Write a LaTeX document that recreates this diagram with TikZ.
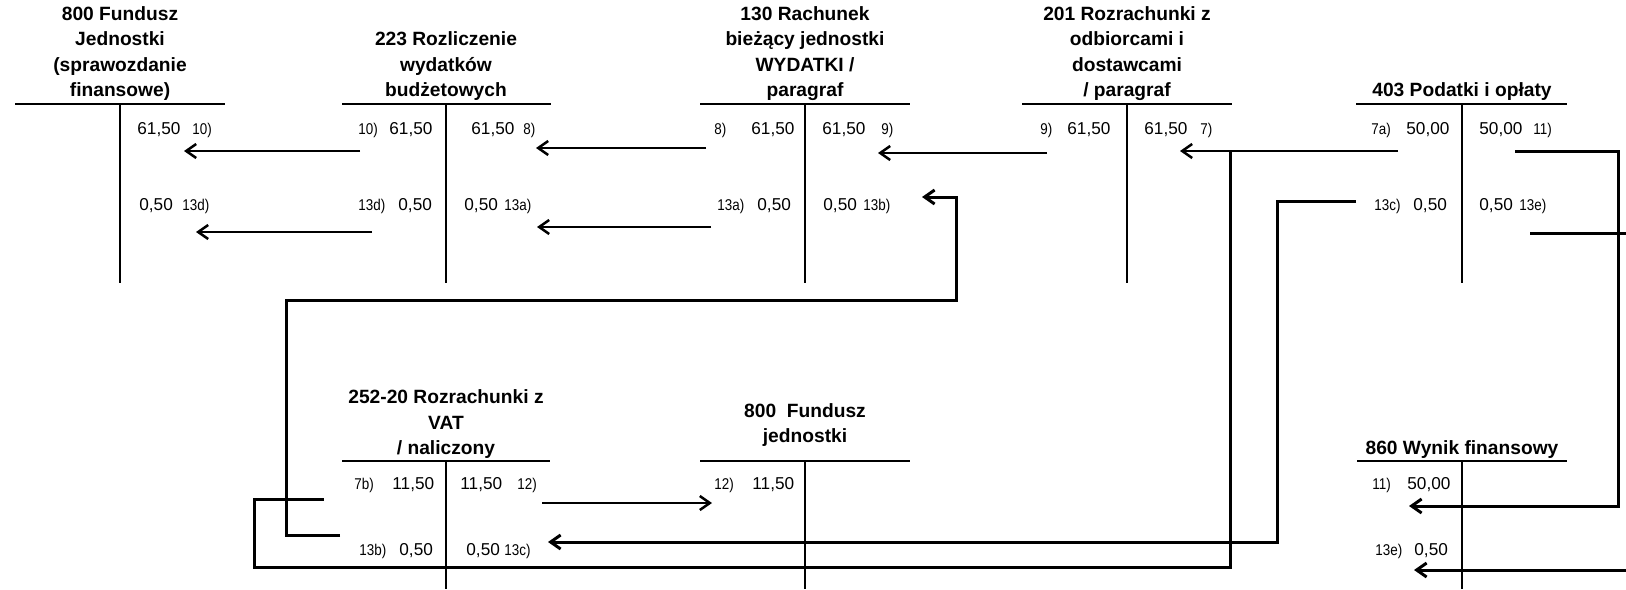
\documentclass[tikz,border=0pt]{standalone}
\usepackage{fontspec}
\setmainfont{Liberation Sans}
\newfontfamily\narrowfont[FakeStretch=0.86]{Liberation Sans}
\usetikzlibrary{arrows.meta}

\begin{document}
\begin{tikzpicture}[
	x=0.5pt, y=-0.5pt,
	acct/.style={
		font=\bfseries\fontsize{9.6}{12.75}\selectfont,
		align=center,
		anchor=south,
		inner sep=0pt,
		execute at end node=\strut
	},
	tline/.style={line width=1pt},
	amt/.style={font=\fontsize{8.6}{10}\selectfont, anchor=base west, inner sep=0pt},
	refl/.style={font=\narrowfont\fontsize{7.8}{9}\selectfont, anchor=base west, inner sep=0pt},
	flow/.style={
		-{Straight Barb[length=5pt,width=7pt]},
		line width=1.25pt
	},
	elbow/.style={line width=1.5pt},
	elbowarrow/.style={elbow, -{Straight Barb[length=5pt,width=7pt]}}
]
\useasboundingbox (0,0) rectangle (1626,589);

% account titles
\node[acct] (t800) at (120,105) {800 Fundusz\\Jednostki\\(sprawozdanie\\finansowe)};
\node[acct] (t223) at (446,105) {223 Rozliczenie\\wydatków\\budżetowych};
\node[acct] (t130) at (805,105) {130 Rachunek\\bieżący jednostki\\WYDATKI /\\paragraf};
\node[acct] (t201) at (1127,105) {201 Rozrachunki z\\odbiorcami i\\dostawcami\\/ paragraf};
\node[acct] (t403) at (1462,105) {403 Podatki i opłaty};
\node[acct] (t252) at (446,463) {252-20 Rozrachunki z\\VAT\\/ naliczony};
\node[acct] (t800j) at (805,451) {800\ \ Fundusz\\jednostki};
\node[acct] (t860) at (1462,463) {860 Wynik finansowy};

% T lines
\draw[tline] (15,104) -- (225,104) (120,104) -- (120,283);
\draw[tline] (342,104) -- (551,104) (446,104) -- (446,283);
\draw[tline] (700,104) -- (910,104) (805,104) -- (805,283);
\draw[tline] (1022,104) -- (1232,104) (1127,104) -- (1127,283);
\draw[tline] (1356,104) -- (1567,104) (1462,104) -- (1462,283);
\draw[tline] (342,461) -- (550,461) (446,461) -- (446,589);
\draw[tline] (700,461) -- (910,461) (805,461) -- (805,589);
\draw[tline] (1357,461) -- (1567,461) (1462,461) -- (1462,589);

% 800 Fundusz Jednostki
\node[amt] (fjc1) at (137,134) {61,50};
\node[refl] (fjc1r) at (192,134) {10)};
\node[amt] (fjc2) at (139,210) {0,50};
\node[refl] (fjc2r) at (182,210) {13d)};

% 223 Rozliczenie wydatkow
\node[refl] (rwd1r) at (358,134) {10)};
\node[amt] (rwd1) at (389,134) {61,50};
\node[refl] (rwd2r) at (358,210) {13d)};
\node[amt] (rwd2) at (398,210) {0,50};
\node[amt] (rwc1) at (471,134) {61,50};
\node[refl] (rwc1r) at (523,134) {8)};
\node[amt] (rwc2) at (464,210) {0,50};
\node[refl] (rwc2r) at (504,210) {13a)};

% 130 Rachunek biezacy
\node[refl] (rbd1r) at (714,134) {8)};
\node[amt] (rbd1) at (751,134) {61,50};
\node[refl] (rbd2r) at (717,210) {13a)};
\node[amt] (rbd2) at (757,210) {0,50};
\node[amt] (rbc1) at (822,134) {61,50};
\node[refl] (rbc1r) at (881,134) {9)};
\node[amt] (rbc2) at (823,210) {0,50};
\node[refl] (rbc2r) at (863,210) {13b)};

% 201 Rozrachunki z odbiorcami
\node[refl] (odd1r) at (1040,134) {9)};
\node[amt] (odd1) at (1067,134) {61,50};
\node[amt] (odc1) at (1144,134) {61,50};
\node[refl] (odc1r) at (1200,134) {7)};

% 403 Podatki
\node[refl] (pod1r) at (1371,134) {7a)};
\node[amt] (pod1) at (1406,134) {50,00};
\node[refl] (pod2r) at (1374,210) {13c)};
\node[amt] (pod2) at (1413,210) {0,50};
\node[amt] (poc1) at (1479,134) {50,00};
\node[refl] (poc1r) at (1533,134) {11)};
\node[amt] (poc2) at (1479,210) {0,50};
\node[refl] (poc2r) at (1519,210) {13e)};

% 252-20 VAT
\node[refl] (vtd1r) at (354,489) {7b)};
\node[amt] (vtd1) at (392,489) {11,50};
\node[refl] (vtd2r) at (359,555) {13b)};
\node[amt] (vtd2) at (399,555) {0,50};
\node[amt] (vtc1) at (460,489) {11,50};
\node[refl] (vtc1r) at (517,489) {12)};
\node[amt] (vtc2) at (466,555) {0,50};
\node[refl] (vtc2r) at (504,555) {13c)};

% 800 Fundusz jednostki
\node[refl] (fjd1r) at (714,489) {12)};
\node[amt] (fjd1) at (752,489) {11,50};

% 860 Wynik finansowy
\node[refl] (wfd1r) at (1372,489) {11)};
\node[amt] (wfd1) at (1407,489) {50,00};
\node[refl] (wfd2r) at (1375,555) {13e)};
\node[amt] (wfd2) at (1414,555) {0,50};

% connector ends
\coordinate (p10s) at (360,151);   \coordinate (p10e) at (184,151);
\coordinate (p13ds) at (372,232);  \coordinate (p13de) at (196,232);
\coordinate (p8s) at (706,148);    \coordinate (p8e) at (536,148);
\coordinate (p13as) at (711,227);  \coordinate (p13ae) at (537,227);
\coordinate (p9s) at (1047,153);   \coordinate (p9e) at (878,153);
\coordinate (p7s) at (1398,151);   \coordinate (p7e) at (1180,151);
\coordinate (p12s) at (542,503);   \coordinate (p12e) at (712,503);
\coordinate (p13bs) at (340,535);  \coordinate (p13be) at (922,197);
\coordinate (p7bs) at (1230,151);  \coordinate (p7be) at (324,499);
\coordinate (p13cs) at (1356,201); \coordinate (p13ce) at (548,542);
\coordinate (p11s) at (1515,151);  \coordinate (p11e) at (1409,506);
\coordinate (p13es) at (1530,233); \coordinate (p13ee) at (1414,570);

% postings
\draw[flow] (p10s) -- (p10e);
\draw[flow] (p13ds) -- (p13de);
\draw[flow] (p8s) -- (p8e);
\draw[flow] (p13as) -- (p13ae);
\draw[flow] (p9s) -- (p9e);
\draw[flow] (p7s) -- (p7e);
\draw[flow] (p12s) -- (p12e);

\draw[elbowarrow] (p13bs) -| (286,300) -| (956,197) -- (p13be);
\draw[elbow] (p7bs) |- (254,567) |- (p7be);
\draw[elbowarrow] (p13cs) -| (1277,542) -- (p13ce);
\draw[elbowarrow] (p11s) -| (1618,506) -- (p11e);
\draw[elbowarrow] (p13es) -| (1630,570) -- (p13ee);

\end{tikzpicture}
\end{document}
